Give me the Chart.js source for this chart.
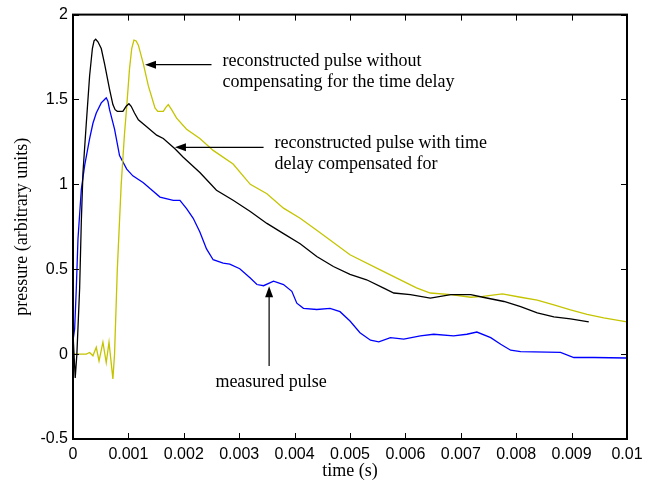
<!DOCTYPE html>
<html>
<head>
<meta charset="utf-8">
<title>pressure pulse</title>
<script src="https://cdn.jsdelivr.net/npm/chart.js@4.4.1/dist/chart.umd.min.js"></script>
<style>
  html, body { margin: 0; padding: 0; background: #fff; }
  #wrap { width: 656px; height: 489px; }
</style>
</head>
<body>
<div id="wrap"><canvas id="pulseChart" width="656" height="489"></canvas></div>
<script>
// values (time in s, pressure in arbitrary units)
const compTime = [0, 0.00004, 0.00007, 0.00012, 0.00015, 0.00018, 0.00024, 0.0003, 0.00035, 0.00038,
  0.00041, 0.00045, 0.00051, 0.00057, 0.00066, 0.00072, 0.00076, 0.0008, 0.0009, 0.00096,
  0.00101, 0.00105, 0.00111, 0.00118, 0.00133, 0.00151, 0.00163, 0.00184, 0.00199, 0.00229,
  0.00259, 0.00289, 0.0032, 0.0035, 0.0038, 0.0041, 0.0044, 0.0047, 0.005, 0.0053,
  0.0056, 0.00579, 0.00609, 0.00645, 0.00682, 0.00718, 0.0074, 0.00778, 0.00808, 0.00838,
  0.00868, 0.00898, 0.00931];
const compPressure = [0.12, -0.14, 0.0, 0.39, 0.78, 1.07, 1.36, 1.64, 1.8, 1.845,
  1.855, 1.84, 1.8, 1.71, 1.56, 1.47, 1.44, 1.43, 1.43, 1.46,
  1.475, 1.46, 1.42, 1.38, 1.34, 1.29, 1.27, 1.21, 1.16, 1.07,
  0.965, 0.906, 0.84, 0.77, 0.71, 0.65, 0.575, 0.516, 0.47, 0.438,
  0.39, 0.36, 0.35, 0.33, 0.35, 0.35, 0.335, 0.31, 0.28, 0.243,
  0.22, 0.208, 0.19];

const uncompTime = [0, 0.00024, 0.0003, 0.00036, 0.00042, 0.00047, 0.00054, 0.0006, 0.00065, 0.00072,
  0.00075, 0.0008, 0.00087, 0.00093, 0.00097, 0.00102, 0.00106, 0.0011, 0.00114, 0.00118,
  0.00127, 0.00136, 0.00148, 0.00153, 0.00163, 0.00168, 0.00172, 0.00178, 0.00187, 0.00205,
  0.00229, 0.00253, 0.00289, 0.0032, 0.0035, 0.0038, 0.0041, 0.0044, 0.005, 0.0056,
  0.0062, 0.00645, 0.00682, 0.00718, 0.0074, 0.00775, 0.00808, 0.00838, 0.00868, 0.00898,
  0.00928, 0.00958, 0.01];
const uncompPressure = [0, 0, 0.01, -0.01, 0.04, -0.04, 0.07, -0.05, 0.07, -0.146,
  0.0, 0.5, 1.0, 1.3, 1.46, 1.68, 1.8, 1.85, 1.845, 1.82,
  1.71, 1.58, 1.45, 1.43, 1.43, 1.455, 1.47, 1.44, 1.39, 1.325,
  1.27, 1.2, 1.12, 1.0, 0.945, 0.86, 0.8, 0.73, 0.585, 0.487,
  0.39, 0.36, 0.35, 0.335, 0.34, 0.355, 0.335, 0.318, 0.29, 0.26,
  0.234, 0.214, 0.19];

const measTime = [0, 0.00003, 0.00006, 0.00009, 0.00015, 0.00021, 0.0003, 0.00036, 0.00042, 0.00051,
  0.00057, 0.0006, 0.00063, 0.00066, 0.00075, 0.00084, 0.00097, 0.00108, 0.00127, 0.00139,
  0.00157, 0.00181, 0.00193, 0.00205, 0.00217, 0.00229, 0.00241, 0.00253, 0.00271, 0.00283,
  0.00301, 0.0032, 0.00332, 0.00344, 0.00362, 0.0038, 0.00395, 0.00404, 0.00416, 0.0044,
  0.00464, 0.00482, 0.005, 0.00518, 0.00537, 0.00552, 0.00573, 0.00597, 0.00627, 0.00651,
  0.00687, 0.00711, 0.00729, 0.00754, 0.00772, 0.0079, 0.00808, 0.0088, 0.00904, 0.0094,
  0.00998, 0.01];
const measPressure = [0.08, 0.15, 0.39, 0.68, 0.97, 1.11, 1.27, 1.36, 1.42, 1.48,
  1.5, 1.51, 1.49, 1.44, 1.325, 1.17, 1.09, 1.05, 1.01, 0.975,
  0.925, 0.906, 0.906, 0.857, 0.8, 0.72, 0.62, 0.556, 0.536, 0.53,
  0.503, 0.448, 0.41, 0.403, 0.43, 0.41, 0.37, 0.30, 0.27, 0.263,
  0.27, 0.25, 0.195, 0.126, 0.082, 0.072, 0.097, 0.088, 0.107, 0.117,
  0.107, 0.117, 0.13, 0.097, 0.058, 0.023, 0.015, 0.01, -0.02, -0.02,
  -0.023, -0.02];

const xTickLabels = ['0', '0.001', '0.002', '0.003', '0.004', '0.005', '0.006', '0.007', '0.008', '0.009', '0.01'];
const yTickLabels = ['-0.5', '0', '0.5', '1', '1.5', '2'];

// arrows with their text, in data units
const notes = [
  { head: [0.0013, 1.705], tail: [0.0025, 1.705], lines: ['reconstructed pulse without', 'compensating for the time delay'] },
  { head: [0.00184, 1.218], tail: [0.00344, 1.218], lines: ['reconstructed pulse with time', 'delay compensated for'] },
  { head: [0.00354, 0.40], tail: [0.00354, -0.07], lines: ['measured pulse'] }
];

const serif = '"Liberation Serif", "Times New Roman", serif';
const sans = '"Liberation Sans", Arial, sans-serif';

function pairs(xs, ys) {
  return xs.map((x, i) => ({ x: x, y: ys[i] }));
}

function arrow(ctx, x0, y0, x1, y1) {
  const ang = Math.atan2(y1 - y0, x1 - x0);
  ctx.beginPath();
  ctx.moveTo(x0, y0);
  ctx.lineTo(x1 - 8 * Math.cos(ang), y1 - 8 * Math.sin(ang));
  ctx.stroke();
  ctx.beginPath();
  ctx.moveTo(x1, y1);
  ctx.lineTo(x1 - 11 * Math.cos(ang) + 4 * Math.sin(ang), y1 - 11 * Math.sin(ang) - 4 * Math.cos(ang));
  ctx.lineTo(x1 - 11 * Math.cos(ang) - 4 * Math.sin(ang), y1 - 11 * Math.sin(ang) + 4 * Math.cos(ang));
  ctx.closePath();
  ctx.fill();
}

// box round the plot, inward ticks on all four sides, and the notes
const framePlugin = {
  id: 'frame',
  afterDatasetsDraw(chart) {
    const { ctx, chartArea: a, scales: { x, y } } = chart;
    ctx.save();
    ctx.strokeStyle = '#000';
    ctx.fillStyle = '#000';
    ctx.lineWidth = 1;
    x.ticks.forEach(t => {
      const px = Math.round(x.getPixelForValue(t.value)) + 0.5;
      ctx.beginPath();
      ctx.moveTo(px, a.bottom); ctx.lineTo(px, a.bottom - 6);
      ctx.moveTo(px, a.top); ctx.lineTo(px, a.top + 6);
      ctx.stroke();
    });
    y.ticks.forEach(t => {
      const py = Math.round(y.getPixelForValue(t.value)) + 0.5;
      ctx.beginPath();
      ctx.moveTo(a.left, py); ctx.lineTo(a.left + 6, py);
      ctx.moveTo(a.right, py); ctx.lineTo(a.right - 6, py);
      ctx.stroke();
    });
    ctx.lineWidth = 2;
    ctx.strokeRect(a.left, a.top, a.right - a.left, a.bottom - a.top);

    ctx.lineWidth = 1.2;
    ctx.font = '18px ' + serif;
    ctx.textBaseline = 'alphabetic';
    notes.forEach(n => {
      const hx = x.getPixelForValue(n.head[0]), hy = y.getPixelForValue(n.head[1]);
      const tx = x.getPixelForValue(n.tail[0]), ty = y.getPixelForValue(n.tail[1]);
      arrow(ctx, tx, ty, hx, hy);
      if (hy === ty) {
        ctx.textAlign = 'left';
        n.lines.forEach((s, i) => ctx.fillText(s, tx + 11, ty + 1 + i * 21));
      } else {
        ctx.textAlign = 'center';
        n.lines.forEach((s, i) => ctx.fillText(s, tx + 2, ty + 21 + i * 21));
      }
    });
    ctx.restore();
  }
};

new Chart(document.getElementById('pulseChart'), {
  type: 'line',
  data: {
    datasets: [
      { label: 'compensated', data: pairs(compTime, compPressure), borderColor: '#000000' },
      { label: 'uncompensated', data: pairs(uncompTime, uncompPressure), borderColor: '#c4c400' },
      { label: 'measured', data: pairs(measTime, measPressure), borderColor: '#0000ff' }
    ]
  },
  options: {
    responsive: false,
    animation: false,
    layout: { padding: { top: 12, right: 29, left: 0, bottom: 0 } },
    elements: {
      line: { borderWidth: 1.3, tension: 0, fill: false },
      point: { radius: 0 }
    },
    plugins: { legend: { display: false }, tooltip: { enabled: false } },
    scales: {
      x: {
        type: 'linear',
        min: 0, max: 0.01,
        afterFit: s => { s.height = 50; },
        grid: { display: false, drawTicks: false },
        border: { display: false },
        ticks: {
          stepSize: 0.001, autoSkip: false, maxRotation: 0, padding: 6,
          color: '#000', font: { family: sans, size: 16 },
          callback: (v, i) => xTickLabels[i]
        },
        title: { display: true, text: 'time (s)', color: '#000', font: { family: serif, size: 18 }, padding: { top: 0, bottom: 7 } }
      },
      y: {
        min: -0.5, max: 2,
        afterFit: s => { s.width = 73; },
        grid: { display: false, drawTicks: false },
        border: { display: false },
        ticks: {
          stepSize: 0.5, autoSkip: false, padding: 5,
          color: '#000', font: { family: sans, size: 16 },
          callback: (v, i) => yTickLabels[i]
        },
        title: { display: true, text: 'pressure (arbitrary units)', color: '#000', font: { family: serif, size: 18 }, padding: { top: 11, bottom: 0 } }
      }
    }
  },
  plugins: [framePlugin]
});
</script>
</body>
</html>
